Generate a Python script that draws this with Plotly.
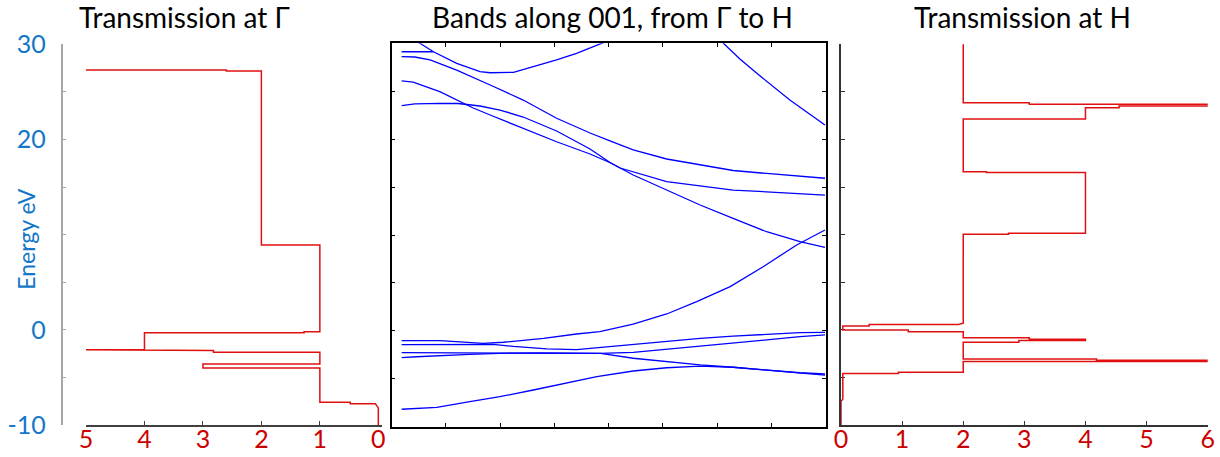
import plotly.graph_objects as go

# ---------------- data ----------------
# Transmission at Gamma: (T, E) vertices of the step curve
gamma_T = [5, 2.6, 2.6, 2, 2, 1, 1, 1.27, 1.27, 4, 4, 5, 5, 2.82, 2.82, 1, 1, 3, 3, 1, 1, 0.48, 0.48, 0.05, 0, 0]
gamma_E = [27.3, 27.3, 27.2, 27.2, 8.9, 8.9, -0.2, -0.2, -0.3, -0.3, -2.1, -2.1, -2.17, -2.17, -2.35, -2.35,
           -3.6, -3.6, -4.0, -4.0, -7.6, -7.6, -7.78, -7.78, -8.2, -10]

# Transmission at H
h_T = [2, 2, 3.08, 3.08, 6, 6, 4.55, 4.55, 4, 4, 2, 2, 2.38, 2.38, 4, 4, 2.74, 2.74, 2, 2, 1.92, 0.46, 0.46,
       0.03, 0.03, 1.1, 1.1, 2, 2, 3.08, 3.08, 4, 4, 2.91, 2.91, 2, 2, 4.18, 4.18, 6, 6, 2, 2, 0.94, 0.94,
       0.03, 0.03, 0, 0]
h_E = [30.5, 23.87, 23.87, 23.69, 23.69, 23.52, 23.52, 23.34, 23.34, 22.15, 22.15, 16.62, 16.62, 16.52, 16.52,
       10.14, 10.14, 10.04, 10.04, 0.69, 0.55, 0.55, 0.41, 0.41, -0.01, -0.01, -0.2, -0.2, -0.82, -0.82, -0.99,
       -0.99, -1.13, -1.13, -1.31, -1.31, -3.06, -3.06, -3.2, -3.2, -3.32, -3.32, -4.46, -4.46, -4.6, -4.6,
       -7.3, -7.5, -10]

# Bands along 001 (k from Gamma=0 to H=1, energy in eV)
band_a_k = [0.020, 0.043, 0.075, 0.130, 0.185, 0.209, 0.264, 0.311, 0.366, 0.413, 0.468, 0.492]
band_a_e = [30.55, 30.0, 29.12, 27.91, 27.04, 26.93, 26.97, 27.56, 28.26, 28.96, 29.93, 30.34]

band_b_k = [0, 0.067, 0.075]
band_b_e = [29.12, 29.12, 29.12]

band_c_k = [0, 0.031, 0.067, 0.130, 0.209, 0.287, 0.366, 0.445, 0.492, 0.547, 0.626, 0.705, 0.783, 0.862, 0.941, 1.0]
band_c_e = [28.62, 28.57, 28.26, 27.21, 25.65, 24.08, 22.18, 20.64, 19.81, 18.87, 17.93, 17.30, 16.73, 16.42, 16.16, 15.92]

band_d_k = [0, 0.027, 0.090, 0.133, 0.169, 0.209, 0.287, 0.366, 0.445, 0.494, 0.516, 0.626, 0.783, 0.886, 1.0]
band_d_e = [26.07, 25.96, 24.95, 23.98, 23.25, 22.52, 21.13, 19.73, 18.45, 17.51, 16.99, 15.56, 14.69, 14.41, 14.17]

band_e_k = [0, 0.031, 0.090, 0.133, 0.185, 0.232, 0.287, 0.366, 0.445, 0.494, 0.547, 0.626, 0.705, 0.783, 0.862, 0.941, 1.0]
band_e_e = [23.49, 23.67, 23.74, 23.72, 23.46, 23.04, 22.31, 20.85, 18.97, 17.51, 16.26, 14.69, 13.13, 11.74, 10.34, 9.30, 8.72]

band_f_k = [0.752, 0.760, 0.799, 0.839, 0.917, 1.0]
band_f_e = [30.34, 30.0, 28.36, 26.87, 24.08, 21.48]

band_g_k = [0, 0.090, 0.138, 0.192, 0.240, 0.287, 0.335, 0.413, 0.468, 0.547, 0.626, 0.697, 0.776, 0.854, 0.933, 1.0]
band_g_e = [-1.03, -1.03, -1.16, -1.30, -1.19, -0.99, -0.78, -0.33, -0.09, 0.71, 1.76, 3.04, 4.61, 6.69, 8.96, 10.52]

band_h_k = [0, 0.146, 0.216, 0.264, 0.343, 0.413, 0.468, 0.547, 0.626, 0.705, 0.783, 0.862, 0.941, 1.0]
band_h_e = [-1.44, -1.44, -1.42, -1.63, -1.89, -1.95, -1.72, -1.40, -1.06, -0.78, -0.54, -0.36, -0.19, -0.15]

band_i_k = [0, 0.035, 0.161, 0.232, 0.327, 0.468, 0.547, 0.626, 0.705, 0.783, 0.862, 0.941, 1.0]
band_i_e = [-2.80, -2.70, -2.45, -2.34, -2.31, -2.34, -2.24, -1.92, -1.65, -1.30, -0.95, -0.61, -0.43]

band_j_k = [0, 0.232, 0.445, 0.470, 0.547, 0.626, 0.705, 0.783, 0.862, 0.941, 1.0]
band_j_e = [-2.28, -2.31, -2.29, -2.36, -2.86, -3.22, -3.56, -3.80, -4.09, -4.37, -4.50]

band_k_k = [0, 0.083, 0.161, 0.232, 0.311, 0.390, 0.461, 0.547, 0.626, 0.705, 0.783, 0.862, 0.941, 1.0]
band_k_e = [-8.18, -7.98, -7.39, -6.87, -6.17, -5.47, -4.78, -4.19, -3.85, -3.67, -3.80, -4.09, -4.37, -4.61]

bands = [(band_a_k, band_a_e), (band_b_k, band_b_e), (band_c_k, band_c_e), (band_d_k, band_d_e),
         (band_e_k, band_e_e), (band_f_k, band_f_e), (band_g_k, band_g_e), (band_h_k, band_h_e),
         (band_i_k, band_i_e), (band_j_k, band_j_e), (band_k_k, band_k_e)]

energy_ticks = [-10, -5, 0, 5, 10, 15, 20, 25, 30]
energy_labels = ["-10", "", "0", "", "", "", "20", "", "30"]
gamma_ticks = [0, 1, 2, 3, 4, 5]
h_ticks = [0, 1, 2, 3, 4, 5, 6]

# ---------------- styling ----------------
W, H = 1220, 457
FONT = "Lato"
RED = "#e01010"
RED_TXT = "#cc0000"
BLUE_TXT = "#1477c8"
BLUE = "#0000ff"


def px(x):
    return x / W


def py(y):
    return 1 - y / H


fig = go.Figure()

fig.add_trace(go.Scatter(x=gamma_T, y=gamma_E, mode="lines", line=dict(color=RED, width=1.5),
                         xaxis="x", yaxis="y", showlegend=False, hoverinfo="skip"))
for bk, be in bands:
    fig.add_trace(go.Scatter(x=bk, y=be, mode="lines", line=dict(color=BLUE, width=1.3),
                             xaxis="x2", yaxis="y2", showlegend=False, hoverinfo="skip"))
fig.add_trace(go.Scatter(x=h_T, y=h_E, mode="lines", line=dict(color=RED, width=1.5),
                         xaxis="x3", yaxis="y3", showlegend=False, hoverinfo="skip"))

ydom = [py(425), py(44.3)]
ydom2 = [py(426.7), py(43.3)]

tickfont_red = dict(family=FONT, size=25, color=RED_TXT)

fig.update_layout(
    template="none",
    width=W, height=H, margin=dict(l=0, r=0, t=0, b=0, autoexpand=False),
    paper_bgcolor="white", plot_bgcolor="white",
    font=dict(family=FONT),
    xaxis=dict(domain=[px(86), px(382.3)], range=[5, -0.068], anchor="y", automargin=False,
               showline=True, linecolor="#404040", linewidth=1.5,
               ticks="inside", ticklen=4, tickwidth=1.3, tickcolor="#404040",
               tickvals=gamma_ticks, tickfont=tickfont_red, showgrid=False, zeroline=False,
               layer="below traces", ticklabelstandoff=-9),
    yaxis=dict(domain=ydom, range=[-10, 30], anchor="free", position=px(61.5), automargin=False,
               showline=True, linecolor="#a6a6a6", linewidth=1.5,
               ticks="inside", ticklen=4, tickwidth=1.3, tickcolor="#a6a6a6",
               tickvals=energy_ticks, ticktext=energy_labels,
               tickfont=dict(family=FONT, size=25, color=BLUE_TXT),
               showgrid=False, zeroline=False, layer="below traces", ticklabelstandoff=10),
    xaxis2=dict(domain=[px(391.7), px(825.7)], range=[-0.0236, 1.0017], anchor="y2", automargin=False,
                showline=True, mirror="ticks", linecolor="black", linewidth=1.5,
                ticks="inside", ticklen=4, tickwidth=1.3, tickcolor="black",
                tickvals=[-0.0236 + i * (1.0253 / 8) for i in range(1, 8)],
                showticklabels=False, showgrid=False, zeroline=False),
    yaxis2=dict(domain=ydom2, range=[-10, 30], anchor="x2", automargin=False,
                showline=True, mirror="ticks", linecolor="black", linewidth=1.5,
                ticks="inside", ticklen=4, tickwidth=1.3, tickcolor="black",
                tickvals=[-5, 0, 5, 10, 15, 20, 25],
                showticklabels=False, showgrid=False, zeroline=False),
    xaxis3=dict(domain=[px(841), px(1207.7)], range=[0, 6], anchor="y3", automargin=False,
                showline=True, linecolor="#333333", linewidth=1.5,
                ticks="inside", ticklen=4, tickwidth=1.3, tickcolor="#333333",
                tickvals=h_ticks, tickfont=tickfont_red, showgrid=False, zeroline=False,
                layer="below traces", ticklabelstandoff=-9),
    yaxis3=dict(domain=ydom, range=[-10, 30], anchor="x3", automargin=False,
                showline=True, linecolor="#333333", linewidth=1.5,
                ticks="inside", ticklen=4, tickwidth=1.3, tickcolor="#333333",
                tickvals=energy_ticks, showticklabels=False,
                showgrid=False, zeroline=False, layer="below traces"),
)

title_font = dict(family=FONT, size=28, color="black")
fig.add_annotation(text="Transmission at Γ", x=px(184.5), y=py(17), xref="paper", yref="paper",
                   showarrow=False, font=title_font, xanchor="center", yanchor="middle")
fig.add_annotation(text="Bands along 001, from Γ to H", x=px(612.5), y=py(17), xref="paper", yref="paper",
                   showarrow=False, font=title_font, xanchor="center", yanchor="middle")
fig.add_annotation(text="Transmission at H", x=px(1022), y=py(17), xref="paper", yref="paper",
                   showarrow=False, font=title_font, xanchor="center", yanchor="middle")
fig.add_annotation(text="Energy eV", x=px(25.8), y=py(239), xref="paper", yref="paper",
                   showarrow=False, textangle=-90, font=dict(family=FONT, size=23, color=BLUE_TXT),
                   xanchor="center", yanchor="middle")

fig.write_html("out.html")
